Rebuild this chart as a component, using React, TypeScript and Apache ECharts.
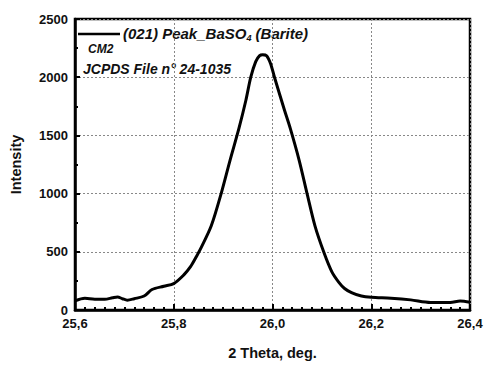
import React, { useEffect, useRef } from "react";
import * as echarts from "echarts";

const twoTheta = [
  25.6, 25.62, 25.64, 25.66, 25.676, 25.686, 25.696, 25.706, 25.72, 25.74, 25.756, 25.78, 25.8,
  25.82, 25.834, 25.846, 25.856, 25.876, 25.896, 25.914, 25.932, 25.946, 25.956, 25.966, 25.974, 25.98,
  25.988, 25.996, 26.004, 26.024, 26.036, 26.054, 26.07, 26.086, 26.104, 26.12, 26.134, 26.146,
  26.16, 26.18, 26.2, 26.24, 26.28, 26.32, 26.36, 26.38, 26.4,
];
const intensity = [
  78, 100, 92, 92, 105, 112, 97, 84, 97, 120, 176, 204, 227,
  300, 372, 460, 540, 723, 1000, 1286, 1560, 1800, 2000, 2134, 2185, 2193,
  2185, 2118, 2000, 1720, 1560, 1286, 1000, 723, 496, 330, 240, 185,
  150, 120, 109, 101, 87, 65, 65, 78, 67,
];
const legendLabel = "(021) Peak_BaSO";
const legendSub = "4";
const legendTail = " (Barite)";
const sampleLabel = "CM2";
const fileLabel = "JCPDS File n° 24-1035";
const xName = "2 Theta, deg.";
const yName = "Intensity";

export default function App() {
  const ref = useRef<HTMLDivElement>(null);
  useEffect(() => {
    document.body.style.margin = "0";
    const chart = echarts.init(ref.current!, null, { renderer: "svg" });
    const font = "'Liberation Sans', Arial, sans-serif";
    const data = twoTheta.map((x, i) => [x, intensity[i]]);
    chart.setOption({
      animation: false,
      backgroundColor: "#ffffff",
      grid: {
        left: 70,
        right: 16,
        top: 19,
        bottom: 49,
        show: true,
        borderColor: "#000",
        borderWidth: 2.5,
        backgroundColor: "transparent",
      },
      xAxis: {
        type: "value",
        min: 25.6,
        max: 26.4,
        interval: 0.2,
        name: xName,
        nameLocation: "middle",
        nameGap: 35,
        nameTextStyle: { fontFamily: font, fontWeight: "bold", fontSize: 14.5, color: "#111" },
        axisLine: { show: true, lineStyle: { color: "#000", width: 2.5 } },
        axisTick: { show: true, inside: true, length: 6, lineStyle: { color: "#000", width: 2 } },
        minorTick: { show: true, splitNumber: 10, length: 3, lineStyle: { color: "#000", width: 2 } },
        axisLabel: {
          fontFamily: font,
          fontWeight: "bold",
          fontSize: 13,
          color: "#111",
          margin: 7,
          formatter: (v: number) => v.toFixed(1).replace(".", ","),
        },
        splitLine: { show: true, lineStyle: { color: "#888", type: [2, 2], width: 1 } },
      },
      yAxis: {
        type: "value",
        min: 0,
        max: 2500,
        interval: 500,
        name: yName,
        nameLocation: "middle",
        nameGap: 52,
        nameTextStyle: { fontFamily: font, fontWeight: "bold", fontSize: 14.5, color: "#111" },
        axisLine: { show: true, lineStyle: { color: "#000", width: 2.5 } },
        axisTick: { show: true, inside: true, length: 5, lineStyle: { color: "#000", width: 2 } },
        minorTick: { show: true, splitNumber: 2, length: 3, lineStyle: { color: "#000", width: 2 } },
        axisLabel: {
          fontFamily: font,
          fontWeight: "bold",
          fontSize: 13,
          color: "#111",
          margin: 7,
          formatter: (v: number) => String(v),
        },
        splitLine: { show: true, lineStyle: { color: "#888", type: [2, 2], width: 1 } },
      },
      series: [
        {
          type: "line",
          data,
          smooth: 0.3,
          showSymbol: false,
          lineStyle: { color: "#000", width: 3 },
        },
      ],
      graphic: [
        { type: "line", shape: { x1: 78, y1: 34, x2: 120, y2: 34 }, style: { stroke: "#000", lineWidth: 2.5 } },
        {
          type: "text",
          x: 123,
          y: 33,
          style: {
            text: `{m|${legendLabel}}{s|${legendSub}}{m|${legendTail}}`,
            verticalAlign: "middle",
            rich: {
              m: { fontFamily: font, fontWeight: "bold", fontStyle: "italic", fontSize: 15, fill: "#111" },
              s: {
                fontFamily: font,
                fontWeight: "bold",
                fontStyle: "italic",
                fontSize: 9,
                fill: "#111",
                padding: [10, 0, 0, 0],
              },
            },
          },
        },
        {
          type: "text",
          x: 88,
          y: 49,
          style: {
            text: sampleLabel,
            verticalAlign: "middle",
            fontFamily: font,
            fontWeight: "bold",
            fontStyle: "italic",
            fontSize: 12,
            fill: "#111",
          },
        },
        {
          type: "text",
          x: 83,
          y: 69,
          style: {
            text: fileLabel,
            verticalAlign: "middle",
            fontFamily: font,
            fontWeight: "bold",
            fontStyle: "italic",
            fontSize: 14,
            fill: "#111",
          },
        },
      ],
    });
    return () => chart.dispose();
  }, []);
  return <div ref={ref} style={{ width: 486, height: 365 }} />;
}
